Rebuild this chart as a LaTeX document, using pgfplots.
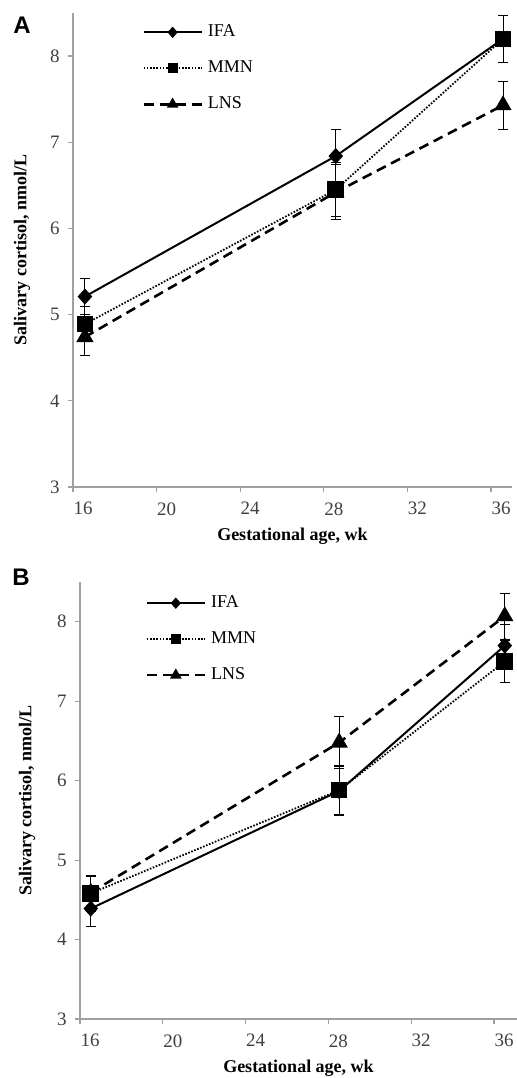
\documentclass[border=0pt]{standalone}
\usepackage{fontspec}
\setmainfont{Liberation Serif}
\newfontfamily\panelfont{Liberation Sans}
\usepackage{pgfplots}
\pgfplotsset{compat=1.18}

\definecolor{axisgray}{RGB}{160,160,160}
\definecolor{ticktext}{RGB}{64,64,64}

\pgfplotsset{
  cortisol/.style={
    scale only axis,
    axis x line*=bottom, axis y line*=left,
    axis line style={draw=axisgray, line width=0.6pt},
    tick style={draw=axisgray, line width=0.6pt},
    tick align=outside,
    major tick length=2.5pt,
    ymin=3, ymax=8.5, ytick={3,4,5,6,7,8},
    /pgf/number format/assume math mode=true,
    ticklabel style={font=\fontsize{9.5}{11}\selectfont, text=ticktext},
    yticklabel style={inner sep=0pt, xshift=-4pt},
    xticklabel style={inner sep=0pt, yshift=-5pt, xshift=5pt},
    xticklabels={16,20,24,28,32,36},
    label style={font=\fontsize{9}{11}\selectfont\bfseries},
    xlabel={Gestational age, wk},
    ylabel={Salivary cortisol, nmol/L},
    legend style={draw=none, fill=none, inner sep=0pt, anchor=north west,
      font=\fontsize{9}{11}\selectfont, row sep=9.5pt, column sep=2.5pt,
      nodes={inner sep=0pt, text height=6.5pt, text depth=2pt}},
    legend cell align=left,
    legend image code/.code={\draw[mark repeat=2,mark phase=2,#1]
      plot coordinates {(0pt,0pt)(14.5pt,0pt)(29pt,0pt)};},
    legend image post style={mark size=2.1pt},
    error bars/y dir=both, error bars/y explicit,
    error bars/error mark=-,
    error bars/error mark options={rotate=90, mark size=2.5pt, line width=0.5pt, black},
    error bars/error bar style={line width=0.5pt, black, solid},
  },
  ifa/.style={black, line width=1pt, mark=diamond*,
    mark size=3.3pt, mark options={solid, fill=black, xscale=1.2}},
  mmn/.style={black, line width=0.9pt, dash pattern=on 0.8pt off 0.8pt,
    mark=square*, mark size=3.7pt, mark options={solid, fill=black}},
  lns/.style={black, line width=1.3pt, dash pattern=on 5pt off 3pt,
    mark=triangle*, mark size=3.7pt, mark options={solid, fill=black}},
}

\begin{document}
\begin{tikzpicture}
\path[use as bounding box] (0pt,0pt) rectangle (258.5pt,-539pt);

% panel A
\begin{axis}[cortisol,
  at={(36.5pt,-243.5pt)}, anchor=south west,
  width=219.5pt, height=237pt,
  xmin=15.43, xmax=36.43,
  xtick={15.43,19.43,23.43,27.43,31.43,35.43},
  xlabel style={at={(axis description cs:0.5,-0.103)}, anchor=center},
  ylabel style={at={(axis description cs:-0.116,0.5)}, anchor=center},
  legend style={at={(axis description cs:0.157,0.978)}},
]
\addplot[ifa] coordinates {(16,5.21) +- (0,0.21) (28,6.84) +- (0,0.31) (36,8.20) +- (0,0.27)};
\addplot[mmn] coordinates {(16,4.89) +- (0,0.20) (28,6.45) +- (0,0.31) (36,8.20) +- (0,0.27)};
\addplot[lns] coordinates {(16,4.74) +- (0,0.21) (28,6.42) +- (0,0.32) (36,7.43) +- (0,0.28)};
\legend{IFA,MMN,LNS}
\end{axis}

% panel B
\begin{axis}[cortisol,
  at={(40pt,-509.5pt)}, anchor=south west,
  width=218.5pt, height=218.5pt,
  xmin=15.48, xmax=36.59,
  xtick={15.48,19.48,23.48,27.48,31.48,35.48},
  xlabel style={at={(axis description cs:0.5,-0.112)}, anchor=center},
  ylabel style={at={(axis description cs:-0.121,0.5)}, anchor=center},
  legend style={at={(axis description cs:0.149,0.972)}},
]
\addplot[ifa] coordinates {(16,4.39) +- (0,0.22) (28,5.87) +- (0,0.31) (36,7.70) +- (0,0.27)};
\addplot[mmn] coordinates {(16,4.58) +- (0,0.23) (28,5.88) +- (0,0.31) (36,7.50) +- (0,0.27)};
\addplot[lns] coordinates {(16,4.59) +- (0,0.20) (28,6.48) +- (0,0.33) (36,8.07) +- (0,0.29)};
\legend{IFA,MMN,LNS}
\end{axis}

\node[font=\panelfont\bfseries\fontsize{12}{14}\selectfont] at (11pt,-12.5pt) {A};
\node[font=\panelfont\bfseries\fontsize{12}{14}\selectfont] at (10.5pt,-288.5pt) {B};
\end{tikzpicture}
\end{document}
